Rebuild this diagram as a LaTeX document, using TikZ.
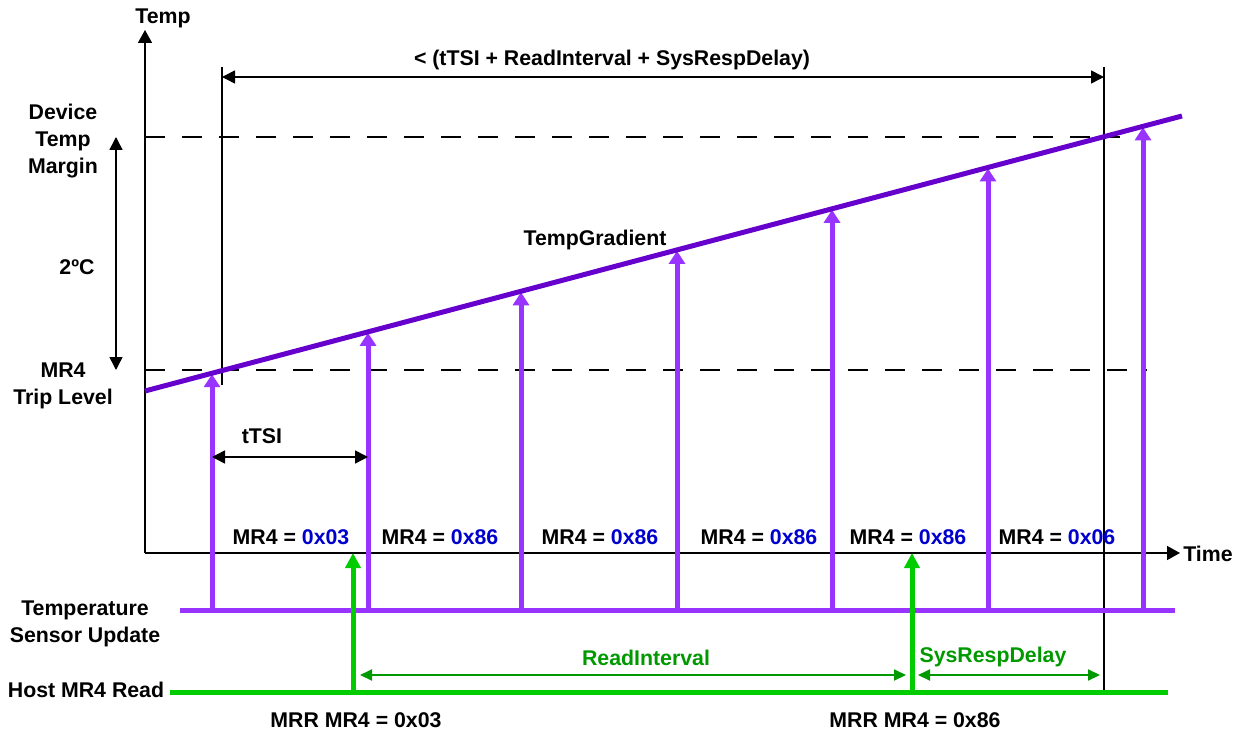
\documentclass[tikz,border=0pt]{standalone}
\usepackage{fontspec}
\setmainfont{Liberation Sans}
\usetikzlibrary{arrows.meta}
\definecolor{gradc}{HTML}{6600CC}
\definecolor{updc}{HTML}{9933FF}
\definecolor{readc}{HTML}{00CC00}
\definecolor{dimg}{HTML}{009900}
\definecolor{mblue}{HTML}{0000CC}
\begin{document}
\begin{tikzpicture}[x=1pt,y=-1pt,
  txt/.style={inner sep=0pt, font=\fontsize{21.3}{27}\selectfont\bfseries, align=center},
  axisline/.style={line width=1.5pt, -{Triangle[width=14pt,length=13pt]}},
  thinline/.style={line width=1.3pt},
  dashline/.style={line width=1.3pt, dash pattern=on 20pt off 17pt},
  dimarrow/.style={line width=1.5pt, {Triangle[width=13pt,length=13pt]}-{Triangle[width=13pt,length=13pt]}},
  gradline/.style={line width=5pt, draw=gradc},
  updarrow/.style={line width=5pt, draw=updc, -{Triangle[width=16pt,length=13pt]}},
  updline/.style={line width=5pt, draw=updc},
  readline/.style={line width=5pt, draw=readc},
  readarrow/.style={line width=5pt, draw=readc, -{Triangle[width=15pt,length=15pt]}},
  gdim/.style={line width=2pt, draw=dimg, {Triangle[width=11pt,length=12pt]}-{Triangle[width=11pt,length=12pt]}}
]
\useasboundingbox (0,0) rectangle (1240,733);
% coordinates
\coordinate (O) at (145,553);
\coordinate (Ytop) at (145,30);
\coordinate (Xend) at (1180,553);
\coordinate (d1a) at (145,137);
\coordinate (d1b) at (1120,137);
\coordinate (d2a) at (145,370);
\coordinate (d2b) at (1147,370);
\coordinate (v1a) at (222,67);
\coordinate (v1b) at (222,385);
\coordinate (v2a) at (1104,67);
\coordinate (v2b) at (1104,693);
\coordinate (da) at (222,77);
\coordinate (db) at (1104,77);
\coordinate (g0) at (145,391);
\coordinate (g1) at (1182,116);
\coordinate (s0) at (180,610);
\coordinate (s1) at (1175,610);
\coordinate (h0) at (170,692);
\coordinate (h1) at (1168,692);
\coordinate (r1a) at (353,692);
\coordinate (r1b) at (353,553);
\coordinate (r2a) at (912,692);
\coordinate (r2b) at (912,553);
\coordinate (ria) at (360,675);
\coordinate (rib) at (906,675);
\coordinate (sra) at (918,675);
\coordinate (srb) at (1100,675);
\coordinate (ta) at (212,457);
\coordinate (tb) at (368,457);
\coordinate (ca) at (116,137);
\coordinate (cb) at (116,370);
% dashed levels
\draw[dashline] (d1a) -- (d1b);
\draw[dashline] (d2a) -- (d2b);
% axes
\draw[axisline] (O) -- (Ytop);
\draw[axisline] (O) -- (Xend);
% thin verticals
\draw[thinline] (v1a) -- (v1b);
\draw[thinline] (v2a) -- (v2b);
\draw[dimarrow] (da) -- (db);
% sensor update arrows
\foreach \i/\x in {1/212,2/368,3/521,4/677,5/832,6/988,7/1143}{
  \coordinate (ub\i) at (\x,610);
  \coordinate (ut\i) at (\x,{392-0.26519*(\x-145)});
  \draw[updarrow] (ub\i) -- (ut\i);
}
\draw[updline] (s0) -- (s1);
\draw[gradline] (g0) -- (g1);
% host read
\draw[readline] (h0) -- (h1);
\draw[readarrow] (r1a) -- (r1b);
\draw[readarrow] (r2a) -- (r2b);
\draw[gdim] (ria) -- (rib);
\draw[gdim] (sra) -- (srb);
\draw[dimarrow] (ta) -- (tb);
\draw[dimarrow] (ca) -- (cb);
% texts
\node[txt] (tTemp) at (163,18) {Temp};
\node[txt] (tTime) at (1208,554) {Time};
\node[txt] (tdim) at (612,60) {< (tTSI + ReadInterval + SysRespDelay)};
\node[txt] (tgrad) at (595,240) {TempGradient};
\node[txt] (tdev) at (63,141) {Device\\Temp\\Margin};
\node[txt] (t2c) at (77,267) {2ºC};
\node[txt] (ttrip) at (63,386) {MR4\\Trip Level};
\node[txt] (ttsi) at (262,436) {tTSI};
\node[txt] (tsens) at (85,624) {Temperature\\Sensor Update};
\node[txt] (thost) at (86,690) {Host MR4 Read};
\node[txt] (tmrr1) at (356,720) {MRR MR4 = 0x03};
\node[txt] (tmrr2) at (915,720) {MRR MR4 = 0x86};
\node[txt, text=dimg] (tri) at (646,658) {ReadInterval};
\node[txt, text=dimg] (tsr) at (993,657) {SysRespDelay};
\node[txt] (m1) at (291,537) {MR4 = \textcolor{mblue}{0x03}};
\node[txt] (m2) at (440,537) {MR4 = \textcolor{mblue}{0x86}};
\node[txt] (m3) at (600,537) {MR4 = \textcolor{mblue}{0x86}};
\node[txt] (m4) at (759,537) {MR4 = \textcolor{mblue}{0x86}};
\node[txt] (m5) at (908,537) {MR4 = \textcolor{mblue}{0x86}};
\node[txt] (m6) at (1057,537) {MR4 = \textcolor{mblue}{0x06}};
\end{tikzpicture}
\end{document}
